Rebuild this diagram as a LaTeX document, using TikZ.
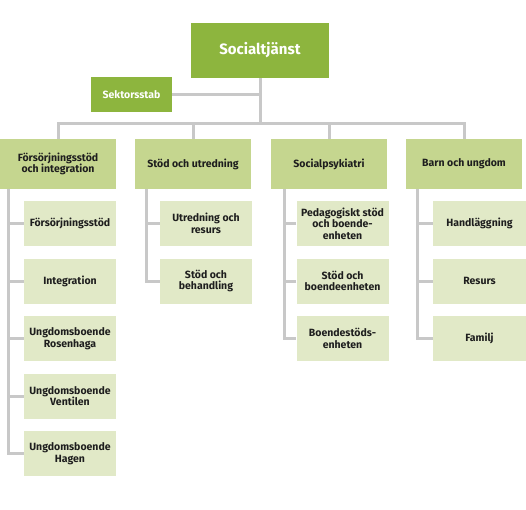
\documentclass[tikz,border=0pt]{standalone}
\usepackage{fontspec}
\setmainfont{Fira Sans}
\begin{document}
\begin{tikzpicture}[x=1pt,y=-1pt,
  conn/.style={draw=linegray,line width=3pt},
  topbox/.style={fill=topgreen,text=white,font=\bfseries\fontsize{15}{17}\selectfont,minimum width=138pt,minimum height=55pt,inner sep=0pt},
  stabbox/.style={fill=topgreen,text=white,font=\bfseries\fontsize{10.5}{12}\selectfont,minimum width=81pt,minimum height=35pt,inner sep=0pt},
  lvtwo/.style={fill=midgreen,text=textdark,font=\bfseries\fontsize{10.5}{11.5}\selectfont,minimum width=116pt,minimum height=50pt,inner sep=0pt,align=center},
  lvthree/.style={fill=lightgreen,text=textdark,font=\bfseries\fontsize{10.5}{11.5}\selectfont,minimum width=92pt,minimum height=45pt,inner sep=0pt,align=center}]
\definecolor{topgreen}{HTML}{8DB53E}
\definecolor{midgreen}{HTML}{C5D68F}
\definecolor{lightgreen}{HTML}{E1E9C7}
\definecolor{linegray}{HTML}{C8C8C8}
\definecolor{textdark}{HTML}{1E1E1E}
\useasboundingbox (0,0) rectangle (526,509);
% nodes
\node[topbox] (top) at (260,50.5) {Socialtjänst};
\node[stabbox] (sek) at (131.5,94.5) {Sektorsstab};
\node[lvtwo] (b1) at (58,164) {Försörjningsstöd\\och integration};
\node[lvtwo] (b2) at (193,164) {Stöd och utredning};
\node[lvtwo] (b3) at (329,164) {Socialpsykiatri};
\node[lvtwo] (b4) at (464,164) {Barn och ungdom};
\node[lvthree] (c11) at (70,223.5) {Försörjningsstöd};
\node[lvthree] (c12) at (70,281) {Integration};
\node[lvthree] (c13) at (70,338.5) {Ungdomsboende\\Rosenhaga};
\node[lvthree] (c14) at (70,396) {Ungdomsboende\\Ventilen};
\node[lvthree] (c15) at (70,453.5) {Ungdomsboende\\Hagen};
\node[lvthree] (c21) at (206,223.5) {Utredning och\\resurs};
\node[lvthree] (c22) at (206,281) {Stöd och\\behandling};
\node[lvthree] (c31) at (342.5,223.5) {Pedagogiskt stöd\\och boende-\\enheten};
\node[lvthree] (c32) at (342.5,281) {Stöd och\\boendeenheten};
\node[lvthree] (c33) at (342.5,338.5) {Boendestöds-\\enheten};
\node[lvthree,minimum width=93pt] (c41) at (479.5,223.5) {Handläggning};
\node[lvthree,minimum width=93pt] (c42) at (479.5,281) {Resurs};
\node[lvthree,minimum width=93pt] (c43) at (479.5,338.5) {Familj};
% coordinates
\coordinate (bus) at (260,123);
\coordinate (v1) at (8,189);
\coordinate (v2) at (146,189);
\coordinate (v3) at (284,189);
\coordinate (v4) at (417,189);
% connectors
\begin{scope}[on background layer/.style={}]
\draw[conn] (top.south) -- (bus);
\draw[conn] (sek.east) -- (sek.east -| top.south);
\draw[conn] (b1.north) -- (b1.north |- bus) -- (b4.north |- bus) -- (b4.north);
\draw[conn] (b2.north) -- (b2.north |- bus);
\draw[conn] (b3.north) -- (b3.north |- bus);
\draw[conn] (v1) |- (c15.west);
\foreach \c in {c11,c12,c13,c14} \draw[conn] (\c.west) -- (\c.west -| v1);
\draw[conn] (v2) |- (c22.west);
\draw[conn] (c21.west) -- (c21.west -| v2);
\draw[conn] (v3) |- (c33.west);
\foreach \c in {c31,c32} \draw[conn] (\c.west) -- (\c.west -| v3);
\draw[conn] (v4) |- (c43.west);
\foreach \c in {c41,c42} \draw[conn] (\c.west) -- (\c.west -| v4);
\end{scope}
\end{tikzpicture}
\end{document}
